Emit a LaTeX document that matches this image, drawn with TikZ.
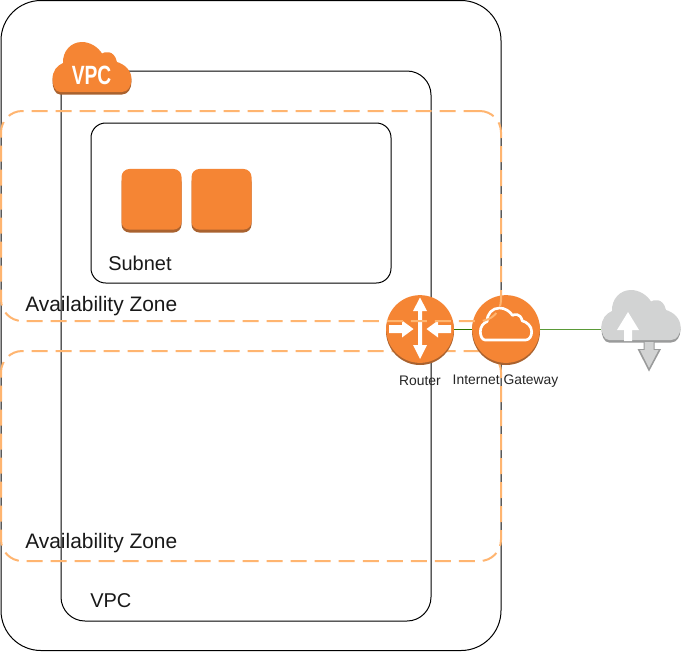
\documentclass[tikz,border=0pt]{standalone}
\usepackage{fontspec}
\setmainfont{Liberation Sans}
\usetikzlibrary{calc}
\definecolor{awsorange}{HTML}{F58534}
\definecolor{awsshade}{HTML}{A9622F}
\definecolor{azdash}{HTML}{FFB570}
\definecolor{inetgray}{HTML}{D2D3D3}
\definecolor{inetshade}{HTML}{9A9B9B}
\definecolor{linkdark}{HTML}{2D7600}
\definecolor{linklight}{HTML}{5A9A38}
\tikzset{
  x=0.75pt,y=-0.75pt,
  cloudpath/.style={insert path={(8,50) .. controls (3,50) and (0.5,43) .. (0.5,37) .. controls (0.5,29) and (5,23.5) .. (11,21) .. controls (10.5,9) and (19,0) .. (30,0) .. controls (38,0) and (46,5) .. (50,11.5) .. controls (52,10) and (62,7) .. (65,20) .. controls (72,22) and (79.5,28) .. (79.5,37) .. controls (79.5,44) and (76,50) .. (70,50) -- cycle}},
  panel/.style={draw=black,line width=0.75pt,rectangle,fill=none,inner sep=0pt},
  azone/.style={draw=azdash,line width=1.5pt,dash pattern=on 12pt off 6pt,rectangle,inner sep=0pt,minimum width=375pt,minimum height=157.5pt,rounded corners=16pt},
  biglabel/.style={font=\fontsize{15pt}{18pt}\selectfont,text=black!90,anchor=west,inner sep=0pt},
  zonelabel/.style={biglabel,font=\fontsize{15.7pt}{18pt}\selectfont},
  smalllabel/.style={font=\fontsize{10.4pt}{12pt}\selectfont,text=black!85,inner sep=0pt},
  roundicon/.style={circle,fill=awsorange,minimum size=51pt,inner sep=0pt},
  squareicon/.style={rectangle,rounded corners=6pt,fill=awsorange,minimum width=45pt,minimum height=45.5pt,inner sep=0pt},
  iconshade/.style={fill=awsshade},
  whitearrow/.style={fill=white,draw=none},
}
\begin{document}
\begin{tikzpicture}
\useasboundingbox (0,0) rectangle (681,651);
\fill[white] (0,0) rectangle (681,651);

% containers
\node[panel,rounded corners=30pt,minimum width=375pt,minimum height=487.5pt] (outer) at (251,325.5) {};
\node[panel,rounded corners=18pt,minimum width=277.5pt,minimum height=412.5pt] (vpcbox) at (246,346) {};
\node[panel,rounded corners=11pt,minimum width=225pt,minimum height=120pt] (subnet) at (241,203) {};

% VPC badge
\begin{scope}[shift={(52,44.5)}]
  \fill[awsshade,cloudpath];
\end{scope}
\begin{scope}[shift={(52,42)}]
  \fill[awsorange,cloudpath];
\end{scope}
\node[text=white,inner sep=0pt] (vpcbadge) at (91.5,75) {\scalebox{0.8}[1.1]{\fontsize{18pt}{20pt}\selectfont\bfseries VPC}};

% instances
\fill[iconshade,rounded corners=6pt] (121.5,174) rectangle (181.5,232.5);
\node[squareicon] (inst1) at (151.5,199.3) {};
\fill[iconshade,rounded corners=6pt] (191.5,174) rectangle (251.5,232.5);
\node[squareicon] (inst2) at (221.5,199.3) {};

% lower availability zone passes under the icons
\node[azone] (azb) at (251,456) {};

% round icons
\fill[iconshade] (420,331) circle[radius=34];
\node[roundicon,minimum size=50.8pt] (router) at (420,329) {};
\fill[iconshade] (506,331) circle[radius=34];
\node[roundicon,minimum size=50.8pt] (gateway) at (506,329) {};

% internet cloud
\node[inner sep=0pt,minimum width=60pt,minimum height=40.5pt] (inet) at (641,317) {};
\draw[linkdark,line width=0.75pt] (router.east) -- (gateway.west);
\draw[linklight,line width=0.75pt] (gateway.east) -- (gateway.east -| inet.west);
\begin{scope}[shift={(601,292.5)}]
  \fill[inetshade,cloudpath];
\end{scope}
\begin{scope}[shift={(601,290)}]
  \fill[inetgray,cloudpath];
\end{scope}
\fill[whitearrow] (628,312) -- (639,330) -- (632,330) -- (632,341) -- (624,341) -- (624,330) -- (617,330) -- cycle;
\fill[inetshade] (643.5,342) -- (654.5,342) -- (654.5,349) -- (661,349) -- (649,371.5) -- (637.5,349) -- (643.5,349) -- cycle;
\fill[inetgray] (644.5,342) -- (653.5,342) -- (653.5,350) -- (658.5,350) -- (649,368) -- (640,350) -- (644.5,350) -- cycle;

% router glyph
\fill[whitearrow] (420,297.5) -- (427,311) -- (422,311) -- (422,345) -- (427,345) -- (420,359) -- (413,345) -- (418,345) -- (418,311) -- (413,311) -- cycle;
\fill[whitearrow] (389,325) -- (402,325) -- (402,320.5) -- (413.5,329) -- (402,337.5) -- (402,333) -- (389,333) -- cycle;
\fill[whitearrow] (451,325) -- (438,325) -- (438,320.5) -- (426.5,329) -- (438,337.5) -- (438,333) -- (451,333) -- cycle;

% gateway glyph
\begin{scope}[shift={(480,308)},xscale=0.65,yscale=0.64]
  \draw[white,line width=2pt,line join=round,cloudpath];
\end{scope}

% upper availability zone passes over the icons
\node[azone] (aza) at (251,216) {};

% labels
\node[zonelabel] (azlabela) at (25,306) {Availability Zone};
\node[zonelabel] (azlabelb) at (25,543) {Availability Zone};
\node[biglabel] (subnetlabel) at (108,263.5) {Subnet};
\node[biglabel] (vpclabel) at (90,601) {VPC};
\node[smalllabel] (routerlabel) at (420,381) {Router};
\node[smalllabel] (gatewaylabel) at (505.5,381) {Internet Gateway};
\end{tikzpicture}
\end{document}
